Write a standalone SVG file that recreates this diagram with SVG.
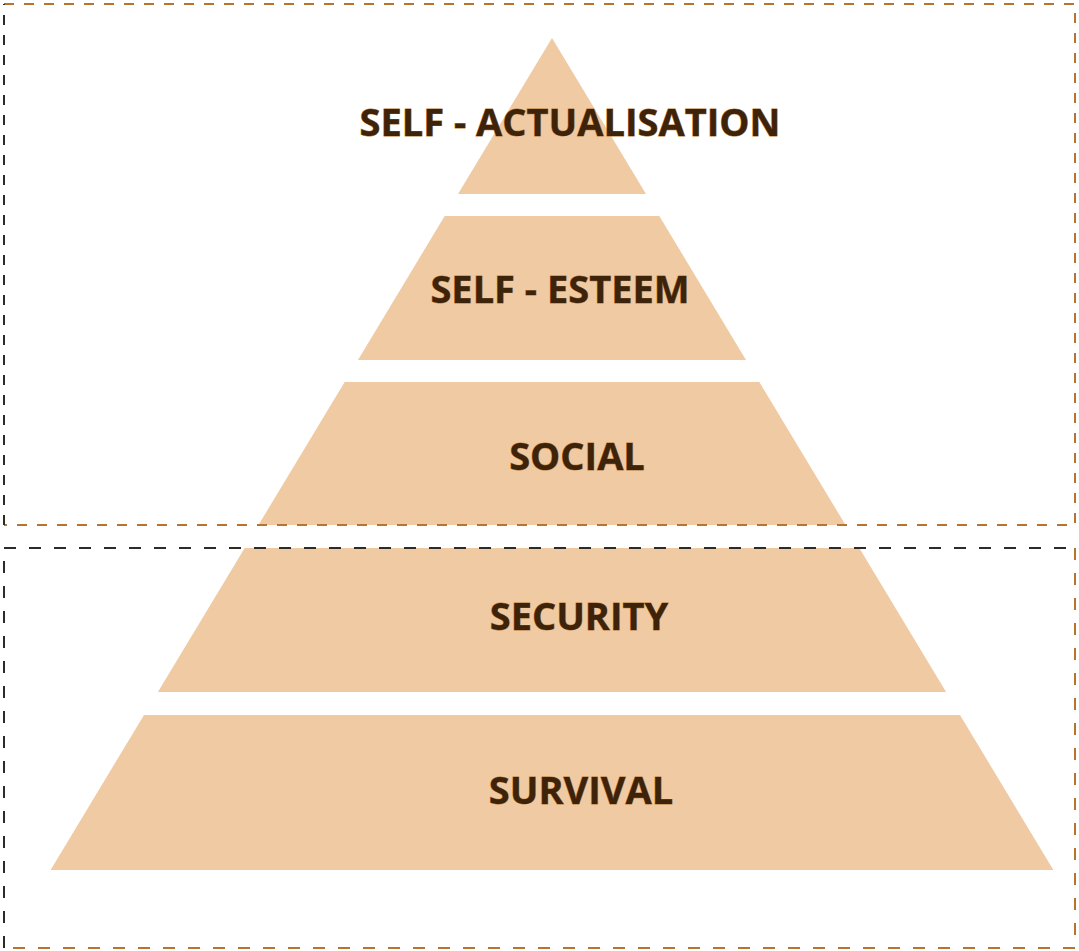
<svg xmlns="http://www.w3.org/2000/svg" width="1079" height="951" viewBox="0 0 1079 951">
<style>
.layer{fill:#efcaa3}
.lbl{font-family:"Open Sans","Liberation Sans",sans-serif;font-weight:700;font-size:38px;fill:#3d2309;stroke:#b8793a;stroke-width:0.8;paint-order:stroke;text-anchor:middle}
.o1{fill:none;stroke:#b8732f;stroke-width:2;stroke-dasharray:10 10}
.d1{fill:none;stroke:#2e2a26;stroke-width:2;stroke-dasharray:10 10}
.o2{fill:none;stroke:#b8732f;stroke-width:2;stroke-dasharray:12 13}
.d2{fill:none;stroke:#2e2a26;stroke-width:2;stroke-dasharray:12 13}
</style>
<rect width="1079" height="951" fill="#ffffff"/>
<g id="layer-actualisation">
<polygon class="layer" points="552,38 646,194 458,194"/>
<text class="lbl" x="570" y="136">SELF - ACTUALISATION</text>
</g>
<g id="layer-esteem">
<polygon class="layer" points="444.7,216 659.3,216 746,360 358,360"/>
<text class="lbl" x="560" y="303">SELF - ESTEEM</text>
</g>
<g id="layer-social">
<polygon class="layer" points="344.7,382 759.3,382 845.5,525 258.5,525"/>
<text class="lbl" x="577" y="470">SOCIAL</text>
</g>
<g id="layer-security">
<polygon class="layer" points="244.7,548 859.3,548 946.1,692 157.9,692"/>
<text class="lbl" x="579" y="630">SECURITY</text>
</g>
<g id="layer-survival">
<polygon class="layer" points="144,715 960,715 1053.4,870 50.6,870"/>
<text class="lbl" x="581" y="804">SURVIVAL</text>
</g>
<g id="groups">
<path class="o1" d="M4,4 H1075 V525 H4"/>
<path class="d1" d="M4,525 V4"/>
<path class="d2" d="M4,948 V548 H1075"/>
<path class="o2" d="M1075,548 V948 H4"/>
</g>
</svg>
